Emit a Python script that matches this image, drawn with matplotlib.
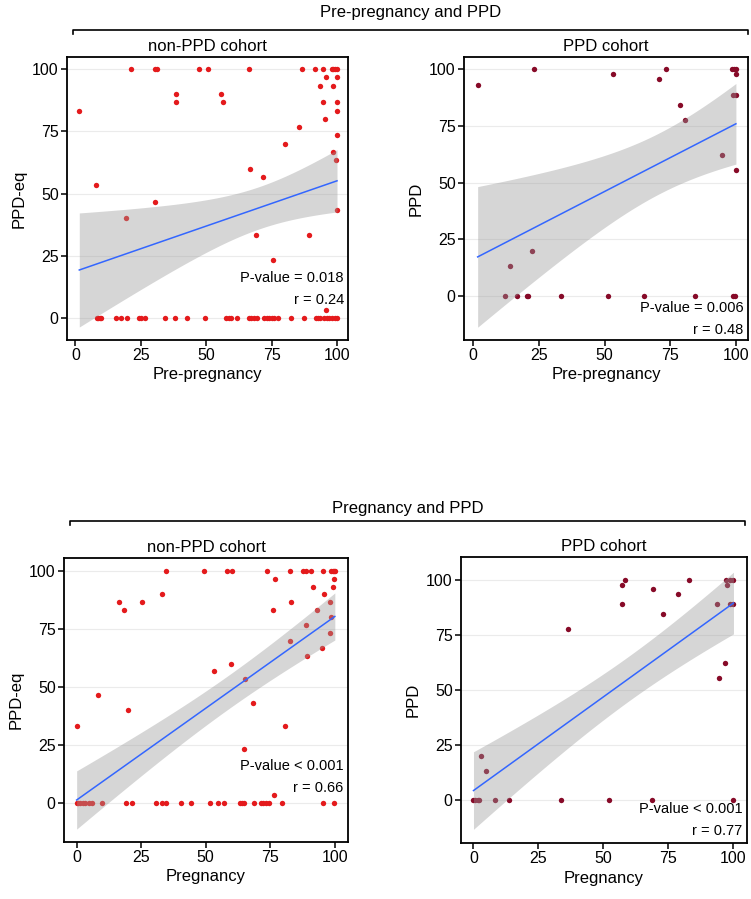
import numpy as np
import matplotlib
matplotlib.use('Agg')
import matplotlib.pyplot as plt
from matplotlib.lines import Line2D

plt.rcParams['font.family'] = ['Liberation Sans', 'DejaVu Sans']

# ---- data ----
# pre-pregnancy vs PPD-eq, non-PPD cohort
pre_non_x = [21.4, 30.5, 31.2, 47.2, 50.6, 66.2, 86.5, 91.6, 94.8, 98.0, 98.6, 99.2, 100,
             95.9, 100, 93.5, 98.4, 38.3, 55.7, 38.3, 56.6, 94.8, 100, 1.5, 100, 95.4,
             85.3, 100, 80.2, 98.5, 99.7, 66.7, 71.6, 7.7, 30.5, 100, 19.5, 69.0, 89.3,
             75.4, 95.7,
             8.1, 8.7, 9.3, 9.7, 15.7, 17.6, 19.9, 24.3, 25.2, 26.5, 34.2, 37.9, 42.6,
             49.6, 57.6, 58.6, 59.5, 61.8, 66.2, 67.1, 68.1, 69.3, 72.2, 73.2, 74.1,
             75.1, 76.0, 77.3, 82.4, 87.2, 91.9, 92.8, 93.5, 95.0, 96.1, 97.0, 98.0,
             99.2, 100]
pre_non_y = [100, 100, 100, 100, 100, 100, 100, 100, 100, 100, 100, 100, 100,
             96.7, 96.7, 93.3, 93.3, 90, 90, 86.7, 86.7, 86.7, 86.7, 83.3, 83.3, 80,
             76.7, 73.3, 70, 66.7, 63.3, 60, 56.7, 53.3, 46.7, 43.3, 40, 33.3, 33.3,
             23.3, 3.3] + [0] * 39

# pre-pregnancy vs PPD, PPD cohort
pre_ppd_x = [1.7, 23.1, 22.2, 14.1, 12.2, 16.7, 20.3, 21.0, 33.3, 51.3, 64.9, 84.3,
             98.8, 99.8, 53.2, 73.2, 70.9, 78.8, 80.7, 98.6, 99.4, 100, 100, 99.0,
             100, 94.7, 100]
pre_ppd_y = [93.3, 100, 20.0, 13.3, 0, 0, 0, 0, 0, 0, 0, 0,
             0, 0, 97.8, 100, 95.6, 84.4, 77.8, 100, 100, 100, 97.8, 88.9,
             88.9, 62.2, 55.6]

# pregnancy vs PPD-eq, non-PPD cohort
preg_non_x = [0, 8.4, 19.7, 16.3, 18.4, 25.2, 33.1, 34.6, 49.4,
              58.1, 60.0, 73.6, 82.8, 87.5, 88.8, 90.7, 95.5, 98.5, 99.1, 99.7, 100,
              76.8, 99.7, 91.4, 99.3, 95.7, 83.2, 98.3, 75.9, 92.9, 98.7, 88.8, 98.3,
              82.8, 95.1, 89.3, 59.7, 53.3, 65.2, 68.4, 80.6, 64.9, 76.5,
              0, 0.5, 1.3, 2.3, 3.2, 4.9, 5.8, 9.7, 19.1, 21.3, 30.7, 32.9, 34.5,
              40.3, 44.3, 51.8, 54.8, 57.1, 63.2, 64.1, 64.9, 68.8, 71.4, 72.2, 73.3,
              74.4, 79.5, 95.4, 99.7]
preg_non_y = [33.3, 46.7, 40, 86.7, 83.3, 86.7, 90, 100, 100,
              100, 100, 100, 100, 100, 100, 100, 100, 100, 100, 100, 100,
              96.7, 96.7, 93.3, 93.3, 90, 86.7, 86.7, 83.3, 83.3, 80, 76.7, 73.3,
              70, 66.7, 63.3, 60, 56.7, 53.3, 43.3, 33.3, 23.3, 3.3] + [0] * 29

# pregnancy vs PPD, PPD cohort
preg_ppd_x = [0, 0.4, 1.7, 2.3, 8.3, 13.6, 33.5, 52.3, 68.6, 100,
              2.7, 4.9, 36.5, 57.2, 58.2, 57.2, 69.0, 72.8, 78.5, 82.7, 97.3, 98.5,
              100, 97.6, 93.7, 98.5, 100, 96.7, 94.5]
preg_ppd_y = [0, 0, 0, 0, 0, 0, 0, 0, 0, 0,
              20.0, 13.3, 77.8, 97.8, 100, 88.9, 95.6, 84.4, 93.3, 100, 100, 100,
              100, 97.8, 88.9, 88.9, 88.9, 62.2, 55.6]

# fitted line (value at the smallest and largest x)
fit_ends = [(19.3, 55.1), (17.2, 76.0), (1.3, 80.4), (4.3, 89.4)]
# half-width of the grey 95% band read at three x positions
band_x = [(1.5, 47.4, 100), (1.7, 32.9, 100), (0, 47.8, 100), (0, 33.3, 100)]
band_hw = [(22.9, 11.05, 12.5), (31.05, 20.45, 17.8), (12.55, 7.5, 10.15), (17.6, 12.0, 14.0)]

stats_text = ['P-value = 0.018\nr = 0.24', 'P-value = 0.006\nr = 0.48',
              'P-value < 0.001\nr = 0.66', 'P-value < 0.001\nr = 0.77']

RED = '#E41A1C'
DARKRED = '#870A28'


def smooth(ax, x, ends, bx, bhw):
    """straight fit with its 95% band (band^2 is quadratic in x for an lm fit)"""
    x0, x1 = min(x), max(x)
    xs = np.linspace(x0, x1, 80)
    yhat = ends[0] + (ends[1] - ends[0]) * (xs - x0) / (x1 - x0)
    q = np.polyfit(bx, np.square(bhw), 2)
    hw = np.sqrt(np.clip(np.polyval(q, xs), 0, None))
    ax.fill_between(xs, yhat - hw, yhat + hw, color='#999999', alpha=0.4,
                    lw=0, zorder=3)
    ax.plot(xs, yhat, color='#3366FF', lw=1.1, zorder=4)


def panel(i, rect, x, y, color, xlim, ylim, title, xlabel, ylabel, ty):
    ax = fig.add_axes(rect)
    ax.scatter(x, y, s=15, color=color, lw=0, zorder=2)
    smooth(ax, x, fit_ends[i], band_x[i], band_hw[i])
    ax.set_xlim(*xlim)
    ax.set_ylim(*ylim)
    ax.set_xticks([0, 25, 50, 75, 100])
    ax.set_yticks([0, 25, 50, 75, 100])
    ax.yaxis.grid(True, color='#EBEBEB', lw=0.8)
    ax.set_axisbelow(True)
    for sp in ax.spines.values():
        sp.set_linewidth(1.3)
        sp.set_color('black')
    ax.tick_params(direction='out', length=4, width=1.1, labelsize=11.5,
                   colors='black', pad=2)
    ax.set_title(title, fontsize=12, pad=4)
    ax.set_xlabel(xlabel, fontsize=12, labelpad=3)
    ax.set_ylabel(ylabel, fontsize=12, labelpad=4)
    ax.text(0.985, ty, stats_text[i], transform=ax.transAxes, ha='right', va='center',
            fontsize=10.5, linespacing=1.75, zorder=5)
    return ax


W, H = 751, 899
fig = plt.figure(figsize=(W / 100, H / 100), dpi=100)


def rect(l, r, t, b):
    return [l / W, 1 - b / H, (r - l) / W, (b - t) / H]


panel(0, rect(67, 348, 57, 340), pre_non_x, pre_non_y, RED, (-3.2, 104.2), (-8.8, 104.8),
      'non-PPD cohort', 'Pre-pregnancy', 'PPD-eq', 0.18)
panel(1, rect(464, 748, 57, 340), pre_ppd_x, pre_ppd_y, DARKRED, (-3.5, 104.6), (-19.5, 105.5),
      'PPD cohort', 'Pre-pregnancy', 'PPD', 0.075)
panel(2, rect(64, 348, 558, 842), preg_non_x, preg_non_y, RED, (-4.9, 105.1), (-16.8, 105.6),
      'non-PPD cohort', 'Pregnancy', 'PPD-eq', 0.23)
panel(3, rect(461, 747, 557, 843), preg_ppd_x, preg_ppd_y, DARKRED, (-4.8, 105.2), (-19.5, 110.3),
      'PPD cohort', 'Pregnancy', 'PPD', 0.08)


def bracket(label, x0, x1, yline, ytext):
    yl = 1 - yline / H
    tick = 4 / H
    fig.add_artist(Line2D([x0 / W, x0 / W, x1 / W, x1 / W], [yl - tick, yl, yl, yl - tick],
                          transform=fig.transFigure, color='black', lw=1.2))
    fig.text((x0 + x1) / 2 / W, 1 - ytext / H, label, ha='center', va='center', fontsize=12)


bracket('Pre-pregnancy and PPD', 73, 748, 30, 13)
bracket('Pregnancy and PPD', 70, 745, 521, 508)

fig.savefig('out.png', dpi=100)
